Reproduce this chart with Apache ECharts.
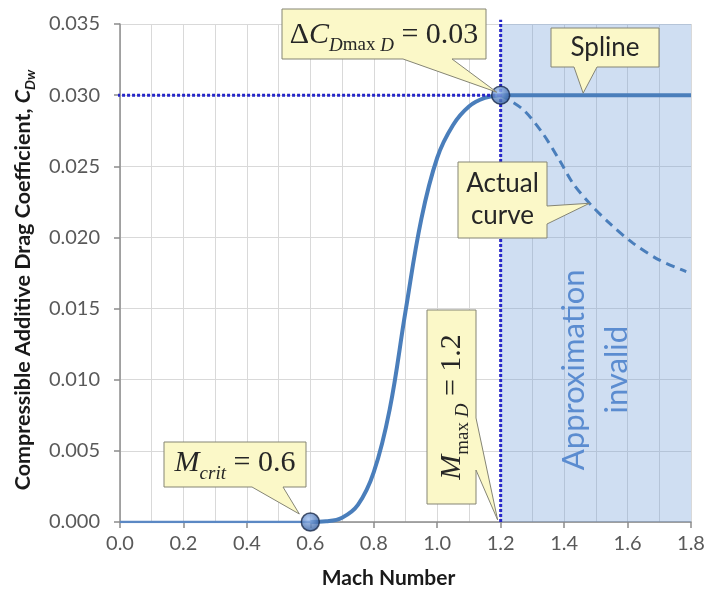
<!DOCTYPE html>
<html>
<head>
<meta charset="utf-8">
<script src="https://cdn.jsdelivr.net/npm/echarts@6/dist/echarts.min.js"></script>
<style>html,body{margin:0;padding:0;background:#fff;}#c{width:708px;height:594px;}</style>
</head>
<body>
<div id="c"></div>
<script>
// ---- data ----
const xTicks = [0.0, 0.2, 0.4, 0.6, 0.8, 1.0, 1.2, 1.4, 1.6, 1.8];
const yTicks = [0.000, 0.005, 0.010, 0.015, 0.020, 0.025, 0.030, 0.035];
const zeroX = [0.0, 0.6];
const zeroY = [0.0, 0.0];
const riseX = [0.60, 0.65, 0.70, 0.75, 0.80, 0.85, 0.90, 0.95, 1.00, 1.05, 1.10, 1.15, 1.20];
const riseY = [0.0, 0.00005, 0.0003, 0.0012, 0.0035, 0.0079, 0.0148, 0.0213, 0.0256, 0.0279, 0.0292, 0.0298, 0.0300];
const splineX = [1.2, 1.8];
const splineY = [0.03, 0.03];
const actualX = [1.2, 1.27, 1.333, 1.386, 1.428, 1.48, 1.543, 1.617, 1.701, 1.785];
const actualY = [0.03, 0.0290, 0.0273, 0.0254, 0.0238, 0.0224, 0.0210, 0.0196, 0.0184, 0.0176];
const keyX = [0.6, 1.2];
const keyY = [0.0, 0.03];
const cdMax = 0.03, mMaxD = 1.2, mCrit = 0.6;

const zip = (a, b) => a.map((v, i) => [v, b[i]]);
const lineBlue = '#4a7ebb';
const dotBlue = '#2626c8';

const chart = echarts.init(document.getElementById('c'), null, {renderer: 'canvas'});
const option = {
  animation: false,
  backgroundColor: '#fff',
  grid: {left: 120, right: 17, top: 24, bottom: 72},
  xAxis: {
    type: 'value', min: xTicks[0], max: xTicks[xTicks.length - 1], interval: 0.2,
    name: 'Mach Number', nameLocation: 'middle', nameGap: 46,
    nameTextStyle: {fontFamily: 'Lato', fontWeight: 'bold', fontSize: 21, color: '#1a1a1a', padding: [0, 34, 0, 0]},
    axisLine: {show: true, onZero: false, lineStyle: {color: '#8c8c8c', width: 1.5}},
    axisTick: {show: true, length: 6, lineStyle: {color: '#8c8c8c', width: 1.5}},
    minorTick: {show: false, splitNumber: 2},
    axisLabel: {fontFamily: 'Lato', fontSize: 20, color: '#595959', margin: 12, formatter: v => v.toFixed(1)},
    splitLine: {show: true, lineStyle: {color: '#d9d9d9', width: 1}},
    minorSplitLine: {show: true, lineStyle: {color: '#d9d9d9', width: 1}}
  },
  yAxis: {
    type: 'value', min: yTicks[0], max: yTicks[yTicks.length - 1], interval: 0.005,
    name: '{b|Compressible Additive Drag Coefficient, }{i|C}{s|Dw}',
    nameLocation: 'middle', nameGap: 82,
    nameTextStyle: {
      padding: [0, 14, 0, 0],
      rich: {
        b: {fontFamily: 'Lato', fontWeight: 'bold', fontSize: 21.5, color: '#1a1a1a', lineHeight: 30},
        i: {fontFamily: 'Lato', fontWeight: 'bold', fontStyle: 'italic', fontSize: 21.5, color: '#1a1a1a', lineHeight: 30},
        s: {fontFamily: 'Lato', fontWeight: 'bold', fontStyle: 'italic', fontSize: 14, color: '#1a1a1a', lineHeight: 20, verticalAlign: 'bottom'}
      }
    },
    axisLine: {show: true, lineStyle: {color: '#8c8c8c', width: 1.5}},
    axisTick: {show: true, length: 6, lineStyle: {color: '#8c8c8c', width: 1.5}},
    axisLabel: {fontFamily: 'Lato', fontSize: 20, color: '#595959', margin: 20, formatter: v => v.toFixed(3)},
    splitLine: {show: true, lineStyle: {color: '#d9d9d9', width: 1}}
  },
  series: [
    {
      type: 'line', name: 'region', data: zip(splineX, splineY), symbol: 'none', silent: true,
      lineStyle: {width: 0, opacity: 0}, z: 1,
      markArea: {
        silent: true,
        itemStyle: {color: 'rgba(110,155,215,0.33)'},
        data: [[{coord: [mMaxD, yTicks[0]]}, {coord: [xTicks[xTicks.length - 1], yTicks[yTicks.length - 1]]}]]
      }
    },
    {type: 'line', name: 'zero', data: zip(zeroX, zeroY), symbol: 'none', lineStyle: {color: '#5b88c4', width: 2.5}, z: 3},
    {type: 'line', name: 'rise', data: zip(riseX, riseY), symbol: 'none', smooth: 0.4, lineStyle: {color: lineBlue, width: 4}, z: 4},
    {type: 'line', name: 'spline', data: zip(splineX, splineY), symbol: 'none', lineStyle: {color: lineBlue, width: 4}, z: 4},
    {type: 'line', name: 'actual', data: zip(actualX, actualY), symbol: 'none', smooth: 0.3, lineStyle: {color: lineBlue, width: 3, type: [9, 6]}, z: 4},
    {type: 'line', name: 'hdot', data: [[-0.025, cdMax], [mMaxD, cdMax]], symbol: 'none', clip: false, lineStyle: {color: dotBlue, width: 3, type: [3, 2]}, z: 5},
    {type: 'line', name: 'vdot', data: [[mMaxD, 0], [mMaxD, 0.0353]], symbol: 'none', clip: false, lineStyle: {color: dotBlue, width: 3, type: [3, 2]}, z: 5},
    {
      type: 'scatter', name: 'keys', data: zip(keyX, keyY), symbol: 'circle', symbolSize: 18, z: 10,
      itemStyle: {
        color: {type: 'radial', x: 0.4, y: 0.35, r: 0.75, colorStops: [{offset: 0, color: '#9cbdf0'}, {offset: 1, color: '#1e4b90'}]},
        borderColor: '#1a2a4a', borderWidth: 1.5
      }
    }
  ]
};
chart.setOption(option);

const P = (x, y) => chart.convertToPixel({gridIndex: 0}, [x, y]);
const fillY = '#fbf8c8', strokeY = '#858575';

function bottomCallout(b, b1, b2, tip) {
  return [[b.l, b.t], [b.r, b.t], [b.r, b.b], [b2, b.b], tip, [b1, b.b], [b.l, b.b]];
}
function rightCallout(b, w1, w2, tip) {
  return [[b.l, b.t], [b.r, b.t], [b.r, w1], tip, [b.r, w2], [b.r, b.b], [b.l, b.b]];
}
function poly(points) {
  return {type: 'polygon', z: 20, shape: {points}, style: {fill: fillY, stroke: strokeY, lineWidth: 1}};
}
function txt(x, y, text, rich, extra) {
  return Object.assign({type: 'text', z: 21, x, y, style: {text, rich, x: 0, y: 0, textAlign: 'center', textVerticalAlign: 'middle', fill: '#262626'}}, extra || {});
}

const serif = 'Liberation Serif';
const richMath = {
  n: {fontFamily: serif, fontSize: 30, lineHeight: 40, color: '#1a1a1a'},
  ni: {fontFamily: serif, fontStyle: 'italic', fontSize: 30, lineHeight: 40, color: '#1a1a1a'},
  s: {fontFamily: serif, fontSize: 19, lineHeight: 22, verticalAlign: 'bottom', color: '#1a1a1a'},
  si: {fontFamily: serif, fontStyle: 'italic', fontSize: 19, lineHeight: 22, verticalAlign: 'bottom', color: '#1a1a1a'}
};
const richSans = {t: {fontFamily: 'Lato', fontSize: 26, lineHeight: 32, color: '#262626'}};

function drawGraphics() {
  const tD = P(mMaxD, cdMax);
  const tS = P(1.46, cdMax);
  const tA = P(1.48, 0.0224);
  const tC = P(mCrit, 0);
  const tM = P(mMaxD, 0);
  const reg = P(1.5, 0.0107);

  const bD = {l: 282, r: 486, t: 9, b: 59};
  const bS = {l: 551, r: 659, t: 28, b: 67};
  const bA = {l: 458, r: 547, t: 162, b: 238};
  const bC = {l: 164, r: 306, t: 442, b: 487};
  const bM = {l: 427, r: 476, t: 310, b: 504};

  const g = [
    {type: 'text', z: 6, x: reg[0], y: reg[1], rotation: Math.PI / 2,
     style: {text: 'Approximation\ninvalid', x: 0, y: 0, textAlign: 'center', textVerticalAlign: 'middle',
             fontFamily: 'Lato', fontSize: 31, lineHeight: 43, fill: '#5b8cd0'}},
    poly(bottomCallout(bD, 403, 452, [tD[0] - 4, tD[1] - 3])),
    txt((bD.l + bD.r) / 2, (bD.t + bD.b) / 2 + 1, '{n|Δ}{ni|C}{si|D}{s|max }{si|D}{n| = 0.03}', richMath),
    poly(bottomCallout(bS, 574, 597, [tS[0], tS[1] - 2])),
    txt((bS.l + bS.r) / 2, (bS.t + bS.b) / 2, '{t|Spline}', richSans),
    poly(rightCallout(bA, 206, 224, [tA[0], tA[1]])),
    txt((bA.l + bA.r) / 2, (bA.t + bA.b) / 2, '{t|Actual}\n{t|curve}', richSans),
    poly(bottomCallout(bC, 252, 283, [tC[0] - 11, tC[1] - 8])),
    txt((bC.l + bC.r) / 2, (bC.t + bC.b) / 2 - 1, '{ni|M}{si|crit}{n| = 0.6}', richMath),
    poly(rightCallout(bM, 418, 470, [tM[0] - 3, tM[1] - 2])),
    txt((bM.l + bM.r) / 2 + 1, (bM.t + bM.b) / 2, '{ni|M}{s|max }{si|D}{n| = 1.2}', richMath, {rotation: Math.PI / 2})
  ];
  chart.setOption({graphic: {elements: g}});
}
drawGraphics();
</script>
</body>
</html>
